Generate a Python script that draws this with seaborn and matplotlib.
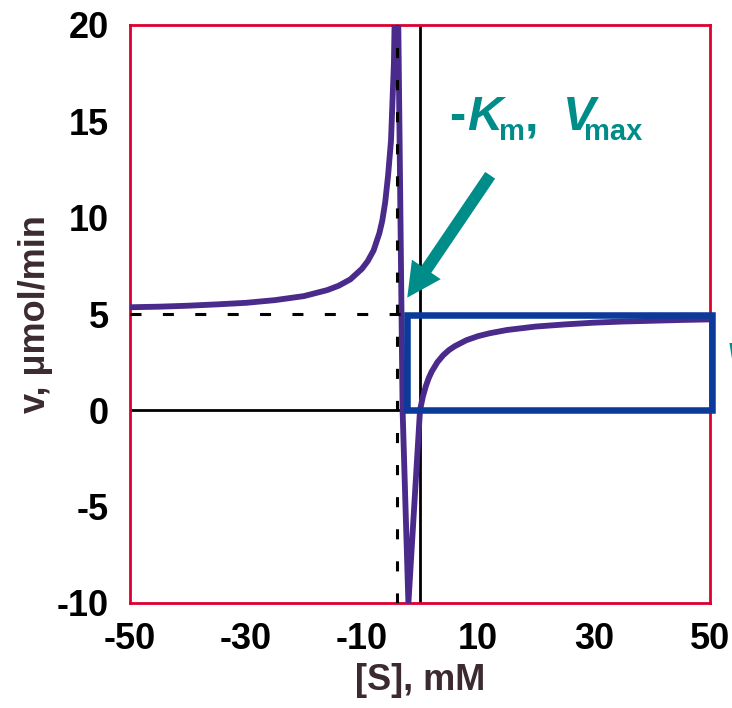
import matplotlib
matplotlib.use("Agg")
import matplotlib.pyplot as plt
from matplotlib.patches import Rectangle
import seaborn as sns
import pandas as pd

# ---- data ----
s_mM = [-50, -45, -40, -35, -30, -25, -20, -16, -14, -12, -10, -9, -8, -7, -6.5, -6,
        -5.5, -5, -4.5, -4, -3, -2, 0, 0.5, 1, 1.5, 2, 3, 4, 5, 6, 8, 10, 12, 15,
        20, 25, 30, 35, 40, 45, 50]
v_rate = [5.35, 5.38, 5.43, 5.5, 5.58, 5.72, 5.93, 6.24, 6.47, 6.8, 7.35, 7.75, 8.3, 9.2,
          9.85, 10.8, 12.2, 14.0, 18.0, 27.0, 0.0, -10.0, 0.0, 0.72, 1.25, 1.67, 2.0, 2.5,
          2.86, 3.13, 3.33, 3.64, 3.85, 4.0, 4.17, 4.35, 4.46, 4.55, 4.61, 4.65, 4.69, 4.72]
x_ticks = [-50, -40, -30, -20, -10, 0, 10, 20, 30, 40, 50]
x_tick_labels = ["-50", "", "-30", "", "-10", "", "10", "", "30", "", "50"]
y_ticks = [-10, -5, 0, 5, 10, 15, 20]
y_tick_labels = ["-10", "-5", "0", "5", "10", "15", "20"]
neg_km = -4
vmax = 5
box_x = [-2.16, 50.26]
box_y = [0.0, 4.95]
arrow_tail = (12.1, 12.2)
arrow_tip = (-2.2, 5.85)
annot_xy = (5.0, 14.55)
# annotation pieces: text, italic?, size (pt), x offset (px), y offset (px)
annot_parts = [("-", False, 35, 0, 0), ("K", True, 35, 18, 0), ("m", False, 21, 50, -10),
               (",", False, 35, 76, 0), ("V", True, 35, 114, 0), ("max", False, 21, 135, -10)]

# ---- style ----
sns.set_style("white")
plt.rcParams['font.family'] = ['Liberation Sans', 'DejaVu Sans']
plt.rcParams['font.weight'] = 'bold'

purple = "#4a2a8a"
teal = "#008c88"
navy = "#0a3a9a"
red = "#dc0030"
label_col = "#3b2a30"

fig = plt.figure(figsize=(7.32, 7.08), dpi=100)
ax = fig.add_axes([130/732, 105/708, 580/732, 578/708])

ax.axvline(0, color='black', lw=2.0, zorder=2)
ax.axhline(0, color='black', lw=2.0, zorder=2)

df = pd.DataFrame({"S": s_mM, "v": v_rate})
sns.lineplot(data=df, x="S", y="v", color=purple, lw=4.2, estimator=None,
             sort=False, ax=ax, zorder=3)

ax.axvline(neg_km, color='black', lw=2.2, dashes=(3.3, 7.2), zorder=4)
ax.axhline(vmax, color='black', lw=2.2, dashes=(3.6, 7.0), zorder=4)

ax.add_patch(Rectangle((box_x[0], box_y[0]), box_x[1] - box_x[0], box_y[1] - box_y[0],
                       fill=False, ec=navy, lw=4.7, zorder=5, clip_on=False))

ax.annotate('', xy=arrow_tip, xytext=arrow_tail,
            arrowprops=dict(arrowstyle='simple,head_length=2.45,head_width=2.5,tail_width=0.86',
                            mutation_scale=10, fc=teal, ec=teal, lw=0,
                            shrinkA=0, shrinkB=0), zorder=6)
for txt, ital, size, dx, dy in annot_parts:
    ax.annotate(txt, xy=annot_xy, xytext=(dx * 0.72, dy * 0.72), textcoords='offset points',
                color=teal, fontsize=size, fontweight='bold',
                fontstyle='italic' if ital else 'normal',
                ha='left', va='baseline', zorder=7, annotation_clip=False)
fig.text(726/732, 1 - 372/708, "V", color=teal, fontsize=30, fontweight='bold',
         fontstyle='italic', ha='left', va='baseline')

ax.set_xlim(-50, 50)
ax.set_ylim(-10, 20)
ax.set_xticks(x_ticks)
ax.set_xticklabels(x_tick_labels)
ax.set_yticks(y_ticks)
ax.set_yticklabels(y_tick_labels)
ax.tick_params(direction='in', length=8, width=1.2, color='black', labelsize=26,
               labelcolor='black')
ax.tick_params(axis='x', pad=14)
ax.tick_params(axis='y', pad=15)
for lab in ax.get_xticklabels() + ax.get_yticklabels():
    lab.set_fontweight('bold')

for sp in ax.spines.values():
    sp.set_color(red)
    sp.set_linewidth(2.0)
    sp.set_visible(True)

ax.set_xlabel("[S], mM", fontsize=26, fontweight='bold', color=label_col, labelpad=4)
ax.set_ylabel("v, μmol/min", fontsize=26, fontweight='bold', color=label_col, labelpad=3)

fig.savefig("out.png", dpi=100)
